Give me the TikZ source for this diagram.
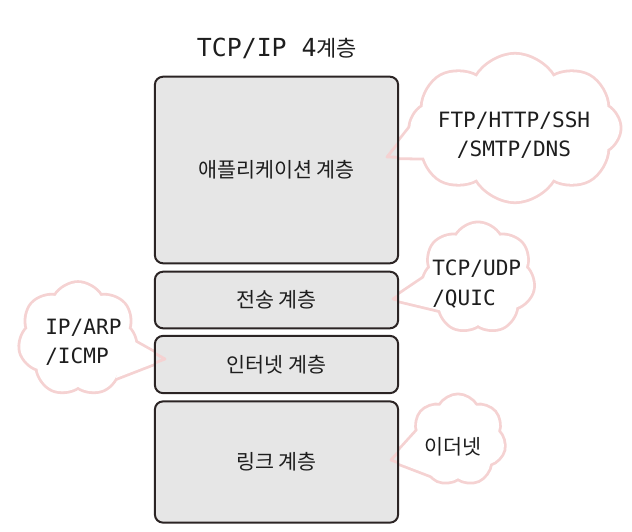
\documentclass[tikz,border=0pt]{standalone}
\usepackage{fontspec}
\setmainfont{Noto Sans CJK KR}
\newfontfamily\latfont[Scale=1.13]{DejaVu Sans Mono}
\usetikzlibrary{shapes.symbols}
\definecolor{inkline}{HTML}{2B2424}
\definecolor{layerfill}{HTML}{E6E6E6}
\definecolor{puff}{HTML}{F5D2D2}
\definecolor{txt}{HTML}{1E1E1E}

\begin{document}
\begin{tikzpicture}[
  x=0.75pt, y=-0.75pt,
  layer/.style={fill=layerfill, rounded corners=6pt, minimum width=182pt,
                inner sep=0pt, font=\fontsize{15.5}{18}\selectfont, text=txt},
  layerline/.style={draw=inkline, line width=1.5pt, rounded corners=6pt},
  puffline/.style={cloud, cloud puffs=8, cloud puff arc=120, draw=puff,
                   line width=4.2pt, inner sep=0pt},
  pufffill/.style={cloud, cloud puffs=8, cloud puff arc=120, fill=white,
                   inner sep=0pt},
  tailline/.style={draw=puff, line width=4.2pt, line join=round},
  tailtip/.style={draw=puff, line width=2.1pt, line join=round},
  say/.style={font=\latfont\fontsize{14}{22}\selectfont, text=txt,
              inner sep=0pt},
]
\useasboundingbox (0,0) rectangle (632,532);

\node[font=\fontsize{16.5}{19}\selectfont, text=txt] (title) at (277,48)
  {{\latfont TCP/IP 4}계층};

% tail points
\coordinate (apptip) at (387,157);
\coordinate (appb1) at (418,118);
\coordinate (appb2) at (438,158);
\coordinate (trntip) at (393,299);
\coordinate (trnb1) at (436,270);
\coordinate (trnb2) at (443,311);
\coordinate (nettip) at (165,359);
\coordinate (netb1) at (124,336);
\coordinate (netb2) at (116,378);
\coordinate (lnktip) at (391,460);
\coordinate (lnkb1) at (420,428);
\coordinate (lnkb2) at (438,478);

% clouds: outline first, then white fill so the tails merge
\node[puffline, minimum width=157pt, minimum height=110pt] (appc) at (515,128) {};
\node[puffline, cloud puffs=7, minimum width=84pt, minimum height=82pt] (trnc) at (478,278) {};
\node[puffline, cloud puffs=7, minimum width=88pt, minimum height=84pt] (netc) at (78,339) {};
\node[puffline, cloud puffs=7, minimum width=70pt, minimum height=67pt] (lnkc) at (458,440) {};
\draw[tailline] (appb1) -- (apptip) -- (appb2);
\draw[tailline] (trnb1) -- (trntip) -- (trnb2);
\draw[tailline] (netb1) -- (nettip) -- (netb2);
\draw[tailline] (lnkb1) -- (lnktip) -- (lnkb2);

\node[pufffill, minimum width=157pt, minimum height=110pt] (appcf) at (appc) {};
\node[pufffill, cloud puffs=7, minimum width=84pt, minimum height=82pt] (trncf) at (trnc) {};
\node[pufffill, cloud puffs=7, minimum width=88pt, minimum height=84pt] (netcf) at (netc) {};
\node[pufffill, cloud puffs=7, minimum width=70pt, minimum height=67pt] (lnkcf) at (lnkc) {};
\fill[white] (appb1) -- (apptip) -- (appb2) -- cycle;
\fill[white] (trnb1) -- (trntip) -- (trnb2) -- cycle;
\fill[white] (netb1) -- (nettip) -- (netb2) -- cycle;
\fill[white] (lnkb1) -- (lnktip) -- (lnkb2) -- cycle;

% the four layers
\node[layer, minimum height=139.5pt] (app) at (276.5,170) {애플리케이션 계층};
\node[layer, minimum height=42pt] (trn) at (276.5,300) {전송 계층};
\node[layer, minimum height=42.5pt] (net) at (276.5,364.5) {인터넷 계층};
\node[layer, minimum height=90.5pt] (lnk) at (276.5,462) {링크 계층};

% tail tips over the grey
\begin{scope}
  \clip (app.north west) rectangle (app.south east);
  \draw[tailtip] (appb1) -- (apptip) -- (appb2);
\end{scope}
\begin{scope}
  \clip (trn.north west) rectangle (trn.south east);
  \draw[tailtip] (trnb1) -- (trntip) -- (trnb2);
\end{scope}
\begin{scope}
  \clip (net.north west) rectangle (net.south east);
  \draw[tailtip] (netb1) -- (nettip) -- (netb2);
\end{scope}
\begin{scope}
  \clip (lnk.north west) rectangle (lnk.south east);
  \draw[tailtip] (lnkb1) -- (lnktip) -- (lnkb2);
\end{scope}

\draw[layerline] (app.north west) rectangle (app.south east);
\draw[layerline] (trn.north west) rectangle (trn.south east);
\draw[layerline] (net.north west) rectangle (net.south east);
\draw[layerline] (lnk.north west) rectangle (lnk.south east);

% cloud texts
\node[say, align=center] (apptxt) at (514,135) {FTP/HTTP/SSH\\/SMTP/DNS};
\node[say, align=left, anchor=west] (trntxt) at (432,284) {TCP/UDP\\/QUIC};
\node[say, align=left, anchor=west] (nettxt) at (45,342) {IP/ARP\\/ICMP};
\node[font=\fontsize{15.5}{18}\selectfont, text=txt] (lnktxt) at (453,447) {이더넷};
\end{tikzpicture}
\end{document}
